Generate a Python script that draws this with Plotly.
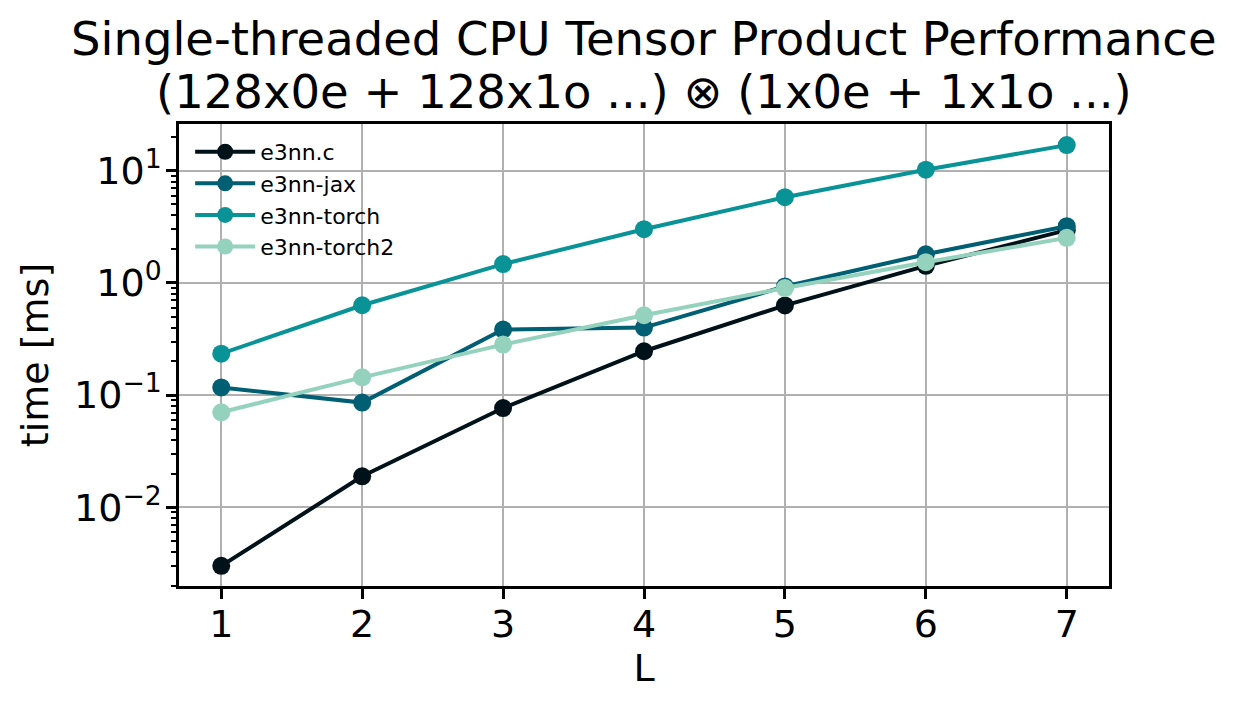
import plotly.graph_objects as go

L = [1, 2, 3, 4, 5, 6, 7]

names = ["e3nn.c", "e3nn-jax", "e3nn-torch", "e3nn-torch2"]
colors = ["#001219", "#005f73", "#0a9396", "#94d2bd"]

time_c = [0.00301, 0.0189, 0.0767, 0.246, 0.63, 1.42, 2.95]
time_jax = [0.117, 0.0858, 0.384, 0.40, 0.93, 1.80, 3.2]
time_torch = [0.234, 0.632, 1.47, 3.01, 5.8, 10.2, 16.9]
time_torch2 = [0.0703, 0.144, 0.282, 0.515, 0.90, 1.53, 2.52]

series = [time_c, time_jax, time_torch, time_torch2]

ytick_vals = [0.01, 0.1, 1, 10]
ytick_text = ["10<sup>\u22122</sup>", "10<sup>\u22121</sup>", "10<sup>0</sup>", "10<sup>1</sup>"]

title_lines = [
    "Single-threaded CPU Tensor Product Performance",
    "(128x0e + 128x1o ...) \u2297 (1x0e + 1x1o ...)",
]

font = "DejaVu Sans"

fig = go.Figure()
for name, col, vals in zip(names, colors, series):
    fig.add_trace(go.Scatter(
        x=L, y=vals, name=name, mode="lines+markers",
        line=dict(color=col, width=4),
        marker=dict(color=col, size=18),
    ))

# minor ticks at 2..9 of each decade
minor_vals = [m * 10.0 ** e for e in range(-3, 2) for m in range(2, 10)]

# two title lines as annotations so the line spacing matches
for txt, ypos in zip(title_lines, [1.184, 1.069]):
    fig.add_annotation(
        text=txt, xref="paper", yref="paper", x=0.5, y=ypos,
        xanchor="center", yanchor="middle", showarrow=False,
        font=dict(family=font, size=46.5, color="black"),
    )

# the page adds a small body margin, so the figure is a bit smaller
fig.update_layout(
    width=1230, height=704,
    paper_bgcolor="white", plot_bgcolor="white",
    margin=dict(l=171, r=129, t=116, b=126),
    font=dict(family=font, size=38, color="black"),
    showlegend=True,
    legend=dict(
        x=0.012, y=0.985, xanchor="left", yanchor="top",
        bgcolor="rgba(0,0,0,0)", borderwidth=0,
        font=dict(family=font, size=22, color="black"),
        tracegroupgap=0, itemwidth=60,
    ),
)

fig.update_xaxes(
    range=[0.7, 7.3], tickvals=L, automargin=False, ticklabelstandoff=-7,
    showgrid=True, gridcolor="#b0b0b0", gridwidth=2,
    showline=True, linecolor="black", linewidth=2.5, mirror=True,
    ticks="outside", ticklen=10, tickwidth=2.5, tickcolor="black",
    tickfont=dict(family=font, size=38),
    title=dict(text="L", font=dict(family=font, size=38), standoff=2),
    zeroline=False,
)

fig.update_yaxes(
    type="log", range=[-2.701, 1.416], automargin=False,
    tickvals=ytick_vals, ticktext=ytick_text, ticklabelstandoff=-3,
    showgrid=True, gridcolor="#b0b0b0", gridwidth=2,
    showline=True, linecolor="black", linewidth=2.5, mirror=True,
    ticks="outside", ticklen=10, tickwidth=2.5, tickcolor="black",
    tickfont=dict(family=font, size=38),
    minor=dict(tickvals=minor_vals, ticks="outside", ticklen=5, tickwidth=1.8,
               tickcolor="black", showgrid=False),
    title=dict(text="time [ms]", font=dict(family=font, size=38), standoff=14),
    zeroline=False,
)

fig.write_html("out.html")
